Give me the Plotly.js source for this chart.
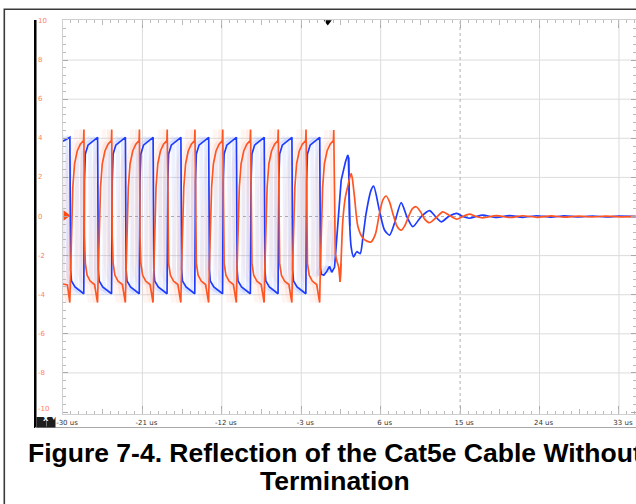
<!DOCTYPE html>
<html>
<head>
<meta charset="utf-8">
<script src="https://cdn.plot.ly/plotly-3.0.1.min.js"></script>
<style>html,body{margin:0;padding:0;background:#fff;}#chart{width:636px;height:504px;}</style>
</head>
<body>
<div id="chart"></div>
<script>
// ---- data (time in us, amplitude in V) ----
const xTickVals = [-30, -21, -12, -3, 6, 15, 24, 33];
const xTickText = ["-30 us", "-21 us", "-12 us", "-3 us", "6 us", "15 us", "24 us", "33 us"];
const yTickVals = [10, 8, 6, 4, 2, 0, -2, -4, -6, -8, -10];
const yTickText = ["10", "8", "6", "4", "2", "0", "-2", "-4", "-6", "-8", "-10"];
const gridX = [-21, -12, -3, 6, 24, 33];
const gridY = [-8, -6, -4, -2, 2, 4, 6, 8];
const centerX = 15;
const centerY = 0;
const triggerTime = 0;
const captionLines = ["Figure 7-4. Reflection of the Cat5e Cable Without", "Termination"];

const orangeT = [
  -30.00, -29.50,
  -29.23, -29.14, -29.04, -28.89, -28.69, -28.39, -28.04, -27.67, -27.63, -27.57, -27.47, -27.27, -26.92, -26.42,
  -26.09, -26.00, -25.90, -25.75, -25.55, -25.25, -24.90, -24.52, -24.48, -24.42, -24.32, -24.12, -23.77, -23.27,
  -22.94, -22.85, -22.75, -22.60, -22.40, -22.10, -21.75, -21.38, -21.34, -21.28, -21.18, -20.98, -20.63, -20.13,
  -19.80, -19.71, -19.61, -19.46, -19.26, -18.96, -18.61, -18.23, -18.19, -18.13, -18.03, -17.83, -17.48, -16.98,
  -16.65, -16.56, -16.46, -16.31, -16.11, -15.81, -15.46, -15.09, -15.05, -14.99, -14.89, -14.69, -14.34, -13.84,
  -13.50, -13.41, -13.31, -13.16, -12.96, -12.66, -12.31, -11.94, -11.90, -11.84, -11.74, -11.54, -11.19, -10.69,
  -10.36, -10.27, -10.17, -10.02, -9.82, -9.52, -9.17, -8.79, -8.75, -8.69, -8.59, -8.39, -8.04, -7.54,
  -7.21, -7.12, -7.02, -6.87, -6.67, -6.37, -6.02, -5.65, -5.61, -5.55, -5.45, -5.25, -4.90, -4.40,
  -4.07, -3.98, -3.88, -3.73, -3.53, -3.23, -2.88, -2.50, -2.46, -2.40, -2.30, -2.10, -1.75, -1.25,
  -0.92, -0.83, -0.73, -0.58, -0.38, -0.08, 0.27, 0.64, 0.68,
  0.76, 0.85, 1.05, 1.25, 1.40, 1.50, 1.71, 2.00, 2.27, 2.50,
  2.66, 2.80, 3.03, 3.41, 3.97, 4.50, 4.90, 5.40, 5.86, 6.25,
  6.62, 7.00, 7.37, 7.85, 8.32, 8.75, 9.18, 9.60, 10.02, 10.50,
  11.00, 11.53, 12.30, 13.04, 13.80, 14.62, 15.30, 16.06, 16.80, 17.57,
  19.10, 20.60, 22.10, 23.70, 25.30, 26.80, 28.40, 30.00, 31.50, 33.00, 34.90
];
const orangeV = [
  -3.45, -3.50,
  -4.40, -2.50, -0.50, 1.50, 2.70, 3.35, 3.70, 3.88, 4.45, -1.00, -2.40, -3.00, -3.30, -3.48,
  -4.40, -2.50, -0.50, 1.50, 2.70, 3.35, 3.70, 3.88, 4.45, -1.00, -2.40, -3.00, -3.30, -3.48,
  -4.40, -2.50, -0.50, 1.50, 2.70, 3.35, 3.70, 3.88, 4.45, -1.00, -2.40, -3.00, -3.30, -3.48,
  -4.40, -2.50, -0.50, 1.50, 2.70, 3.35, 3.70, 3.88, 4.45, -1.00, -2.40, -3.00, -3.30, -3.48,
  -4.40, -2.50, -0.50, 1.50, 2.70, 3.35, 3.70, 3.88, 4.45, -1.00, -2.40, -3.00, -3.30, -3.48,
  -4.40, -2.50, -0.50, 1.50, 2.70, 3.35, 3.70, 3.88, 4.45, -1.00, -2.40, -3.00, -3.30, -3.48,
  -4.40, -2.50, -0.50, 1.50, 2.70, 3.35, 3.70, 3.88, 4.45, -1.00, -2.40, -3.00, -3.30, -3.48,
  -4.40, -2.50, -0.50, 1.50, 2.70, 3.35, 3.70, 3.88, 4.45, -1.00, -2.40, -3.00, -3.30, -3.48,
  -4.40, -2.50, -0.50, 1.50, 2.70, 3.35, 3.70, 3.88, 4.45, -1.00, -2.40, -3.00, -3.30, -3.48,
  -4.40, -2.50, -0.50, 1.50, 2.70, 3.35, 3.70, 3.88, 4.42,
  -1.00, -1.90, -2.30, -2.60, -3.34, -2.40, -0.20, 1.00, 1.55, 2.00,
  2.20, 1.90, 1.00, -0.50, -1.10, -1.27, -1.30, -0.90, 0.16, 0.85,
  1.05, 0.75, 0.16, -0.50, -0.70, -0.45, 0.02, 0.40, 0.50, 0.25,
  -0.15, -0.32, -0.05, 0.24, 0.05, -0.14, 0.00, 0.12, 0.00, -0.07,
  0.05, -0.05, 0.04, -0.04, 0.03, -0.03, 0.02, -0.02, 0.02, -0.015, 0.01
];
const blueT = [
  -30.00, -29.60,
  -29.22, -29.14, -29.04, -28.64, -28.09, -27.65, -27.57, -27.47, -27.17, -26.52,
  -26.08, -26.00, -25.90, -25.50, -24.95, -24.50, -24.42, -24.32, -24.02, -23.37,
  -22.93, -22.85, -22.75, -22.35, -21.80, -21.36, -21.28, -21.18, -20.88, -20.23,
  -19.79, -19.71, -19.61, -19.21, -18.66, -18.21, -18.13, -18.03, -17.73, -17.08,
  -16.64, -16.56, -16.46, -16.06, -15.51, -15.07, -14.99, -14.89, -14.59, -13.94,
  -13.49, -13.41, -13.31, -12.91, -12.36, -11.92, -11.84, -11.74, -11.44, -10.79,
  -10.35, -10.27, -10.17, -9.77, -9.22, -8.77, -8.69, -8.59, -8.29, -7.64,
  -7.20, -7.12, -7.02, -6.62, -6.07, -5.63, -5.55, -5.45, -5.15, -4.50,
  -4.06, -3.98, -3.88, -3.48, -2.93, -2.48, -2.40, -2.30, -2.00, -1.35,
  -0.91, -0.83, -0.73, -0.45, -0.10, 0.20, 0.45, 0.77, 1.14, 1.52,
  2.01, 2.27, 2.36, 2.50, 2.65, 2.92, 3.29, 3.67, 4.00, 4.35,
  4.92, 5.20, 5.86, 6.43, 7.00, 7.56, 8.32, 8.96, 9.64, 10.59,
  11.53, 12.20, 12.86, 13.70, 14.62, 15.30, 16.06, 16.80, 17.57, 19.10,
  20.60, 22.10, 23.70, 25.30, 26.80, 28.40, 30.00, 31.50, 33.00, 34.90
];
const blueV = [
  3.85, 3.95,
  4.05, -2.70, -3.30, -3.60, -3.82, -3.95, 1.80, 3.20, 3.65, 3.88,
  4.05, -2.70, -3.30, -3.60, -3.82, -3.95, 1.80, 3.20, 3.65, 3.88,
  4.05, -2.70, -3.30, -3.60, -3.82, -3.95, 1.80, 3.20, 3.65, 3.88,
  4.05, -2.70, -3.30, -3.60, -3.82, -3.95, 1.80, 3.20, 3.65, 3.88,
  4.05, -2.70, -3.30, -3.60, -3.82, -3.95, 1.80, 3.20, 3.65, 3.88,
  4.05, -2.70, -3.30, -3.60, -3.82, -3.95, 1.80, 3.20, 3.65, 3.88,
  4.05, -2.70, -3.30, -3.60, -3.82, -3.95, 1.80, 3.20, 3.65, 3.88,
  4.05, -2.70, -3.30, -3.60, -3.82, -3.95, 1.80, 3.20, 3.65, 3.88,
  4.05, -2.70, -3.30, -3.60, -3.82, -3.95, 1.80, 3.20, 3.65, 3.88,
  4.05, -2.60, -2.95, -3.00, -2.80, -2.55, -2.85, -2.60, -0.20, 1.85,
  2.80, 3.15, 3.00, -0.50, -1.55, -2.06, -1.80, -1.90, -1.00, 0.16,
  1.36, 1.55, 0.30, -0.69, -0.95, -0.35, 0.71, 0.00, -0.52, 0.00,
  0.30, 0.00, -0.27, 0.00, 0.16, 0.00, -0.09, 0.00, 0.07, -0.05,
  0.05, -0.04, 0.04, -0.03, 0.03, -0.02, 0.02, -0.02, 0.015, -0.01
];

// ---- styling / layout ----
const BLUE = "#1e3cff";
const ORANGE = "#ff5522";
const W = 636, H = 504;
const M = {l: 63, r: 0, t: 20, b: 90};
const plotW = W - M.l - M.r, plotH = H - M.t - M.b;
const px = x => (x - M.l) / plotW;       // page px -> paper x
const py = y => (H - M.b - y) / plotH;   // page px -> paper y

function part(t, v, lo, hi, shift) {
  const gx = [], gy = [];
  for (let i = 0; i < t.length; i++) { if (t[i] >= lo && t[i] <= hi) { gx.push(t[i] + (shift || 0)); gy.push(v[i]); } }
  return {gx, gy};
}
const gb1 = part(blueT, blueV, -99, 1.2, -0.35), gb2 = part(blueT, blueV, -99, 1.2, -0.85);
const go1 = part(orangeT, orangeV, -99, 1.2, -0.35), go2 = part(orangeT, orangeV, -99, 1.2, -0.85);
const bA = part(blueT, blueV, -99, 2.50), bB = part(blueT, blueV, 2.36, 99);
const oA = part(orangeT, orangeV, -99, 1.50), oB = part(orangeT, orangeV, 1.40, 99);

const traces = [
  {x: gb2.gx, y: gb2.gy, mode: "lines", line: {color: "rgba(90,125,255,0.10)", width: 4}, hoverinfo: "skip"},
  {x: go2.gx, y: go2.gy, mode: "lines", line: {color: "rgba(255,130,90,0.08)", width: 4}, hoverinfo: "skip"},
  {x: gb1.gx, y: gb1.gy, mode: "lines", line: {color: "rgba(90,125,255,0.17)", width: 3}, hoverinfo: "skip"},
  {x: go1.gx, y: go1.gy, mode: "lines", line: {color: "rgba(255,130,90,0.14)", width: 3}, hoverinfo: "skip"},
  {x: bA.gx, y: bA.gy, mode: "lines", line: {color: BLUE, width: 1.7}},
  {x: bB.gx, y: bB.gy, mode: "lines", line: {color: BLUE, width: 1.7, shape: "spline", smoothing: 0.7}},
  {x: oA.gx, y: oA.gy, mode: "lines", line: {color: ORANGE, width: 1.7}},
  {x: oB.gx, y: oB.gy, mode: "lines", line: {color: ORANGE, width: 1.7, shape: "spline", smoothing: 0.7}},
  {x: [triggerTime], y: [9.95], mode: "markers", marker: {symbol: "triangle-down", size: 7, color: "#000"}, cliponaxis: false},
  {x: [-29.68], y: [0.05], mode: "markers", marker: {symbol: "triangle-right", size: 9, color: "#ff4a14"}, cliponaxis: false},
  {x: [-25.5], y: [0], xaxis: "x2", mode: "markers", marker: {opacity: 0}, hoverinfo: "skip"}
];

const shapes = [];
gridX.forEach(g => shapes.push({type: "line", xref: "x", yref: "paper", x0: g, x1: g, y0: 0, y1: 1, line: {color: "#dcdcdc", width: 1}, layer: "below"}));
gridY.forEach(g => shapes.push({type: "line", xref: "paper", yref: "y", x0: 0, x1: 1, y0: g, y1: g, line: {color: "#dcdcdc", width: 1}, layer: "below"}));
shapes.push({type: "line", xref: "x", yref: "paper", x0: centerX, x1: centerX, y0: 0, y1: 1, line: {color: "#b0b0b0", width: 1, dash: "dot"}, layer: "below"});
shapes.push({type: "line", xref: "paper", yref: "y", x0: 0, x1: 1, y0: centerY, y1: centerY, line: {color: "#b0b0b0", width: 1, dash: "dot"}, layer: "below"});
shapes.push({type: "rect", xref: "paper", yref: "paper", x0: px(34), x1: px(36.5), y0: py(428), y1: py(20), fillcolor: "#000", line: {width: 0}});
shapes.push({type: "line", xref: "paper", yref: "paper", x0: px(35), x1: 1.01, y0: py(427.5), y1: py(427.5), line: {color: "#a8a8a8", width: 1}});
shapes.push({type: "rect", xref: "paper", yref: "paper", x0: px(4.3), x1: px(700), y0: py(560), y1: py(9.3), line: {color: "#3a3a3a", width: 1.6}, fillcolor: "rgba(0,0,0,0)"});
shapes.push({type: "rect", xref: "paper", yref: "paper", x0: px(36.5), x1: px(55.5), y0: py(427.5), y1: py(417), fillcolor: "#1e1e1e", line: {width: 0}});
shapes.push({type: "line", xref: "paper", yref: "paper", x0: px(46.5), x1: px(46.5), y0: py(426.5), y1: py(418), line: {color: "#777", width: 1}});

const annotations = [];
yTickVals.forEach((v, i) => annotations.push({xref: "paper", yref: "y", x: px(37), y: v, xanchor: "left", yanchor: "middle", text: yTickText[i], showarrow: false, borderpad: 0, yshift: (v === -10 ? 3 : 0), font: {family: "DejaVu Sans, Verdana, sans-serif", size: 7, color: "#ff7f5c"}}));
annotations.push({xref: "paper", yref: "paper", x: px(41.5), y: py(423.5), text: "<b>X</b>", showarrow: false, borderpad: 0, font: {family: "DejaVu Sans, sans-serif", size: 7, color: "#fff"}});
annotations.push({xref: "paper", yref: "paper", x: px(51), y: py(423), text: "▾", showarrow: false, borderpad: 0, font: {family: "DejaVu Sans, sans-serif", size: 7, color: "#fff"}});
annotations.push({xref: "paper", yref: "paper", x: px(335), y: py(453), xanchor: "center", yanchor: "middle",
  text: "<b>" + captionLines[0] + "</b>", showarrow: false, font: {family: "Liberation Sans, Arial, sans-serif", size: 26.5, color: "#000"}});
annotations.push({xref: "paper", yref: "paper", x: px(335), y: py(481), xanchor: "center", yanchor: "middle",
  text: "<b>" + captionLines[1] + "</b>", showarrow: false, font: {family: "Liberation Sans, Arial, sans-serif", size: 26.5, color: "#000"}});

const layout = {
  width: W, height: H, margin: M, showlegend: false,
  paper_bgcolor: "#fff", plot_bgcolor: "#fff",
  xaxis: {range: [-30, 34.93], tickvals: xTickVals, ticktext: xTickText, showgrid: false, zeroline: false,
    ticks: "inside", ticklen: 8, tickcolor: "#aaa", tickwidth: 1, mirror: "ticks", showline: true, linecolor: "#cfcfcf",
    ticklabelshift: 4, ticklabelstandoff: 2,
    minor: {dtick: 0.9, tick0: -30, ticks: "inside", ticklen: 3, tickcolor: "#bbb", showgrid: false},
    tickfont: {family: "DejaVu Sans, Verdana, sans-serif", size: 7, color: "#333"}, fixedrange: true},
  xaxis2: {range: [-30, 34.93], overlaying: "x", side: "bottom", tick0: -30, dtick: 4.5, ticks: "inside", ticklen: 5,
    tickcolor: "#bbb", showticklabels: false, showgrid: false, zeroline: false, mirror: "ticks", showline: false},
  yaxis: {range: [-10.1, 10.05], tickvals: yTickVals, showticklabels: false, showgrid: false, zeroline: false,
    ticks: "inside", ticklen: 5, tickcolor: "#aaa", mirror: "ticks", showline: true, linecolor: "#cfcfcf",
    minor: {dtick: 0.4, tick0: 0, ticks: "inside", ticklen: 3, tickcolor: "#bbb", showgrid: false}, fixedrange: true},
  shapes: shapes, annotations: annotations
};
Plotly.newPlot("chart", traces, layout, {staticPlot: true, displayModeBar: false});
</script>
</body>
</html>
